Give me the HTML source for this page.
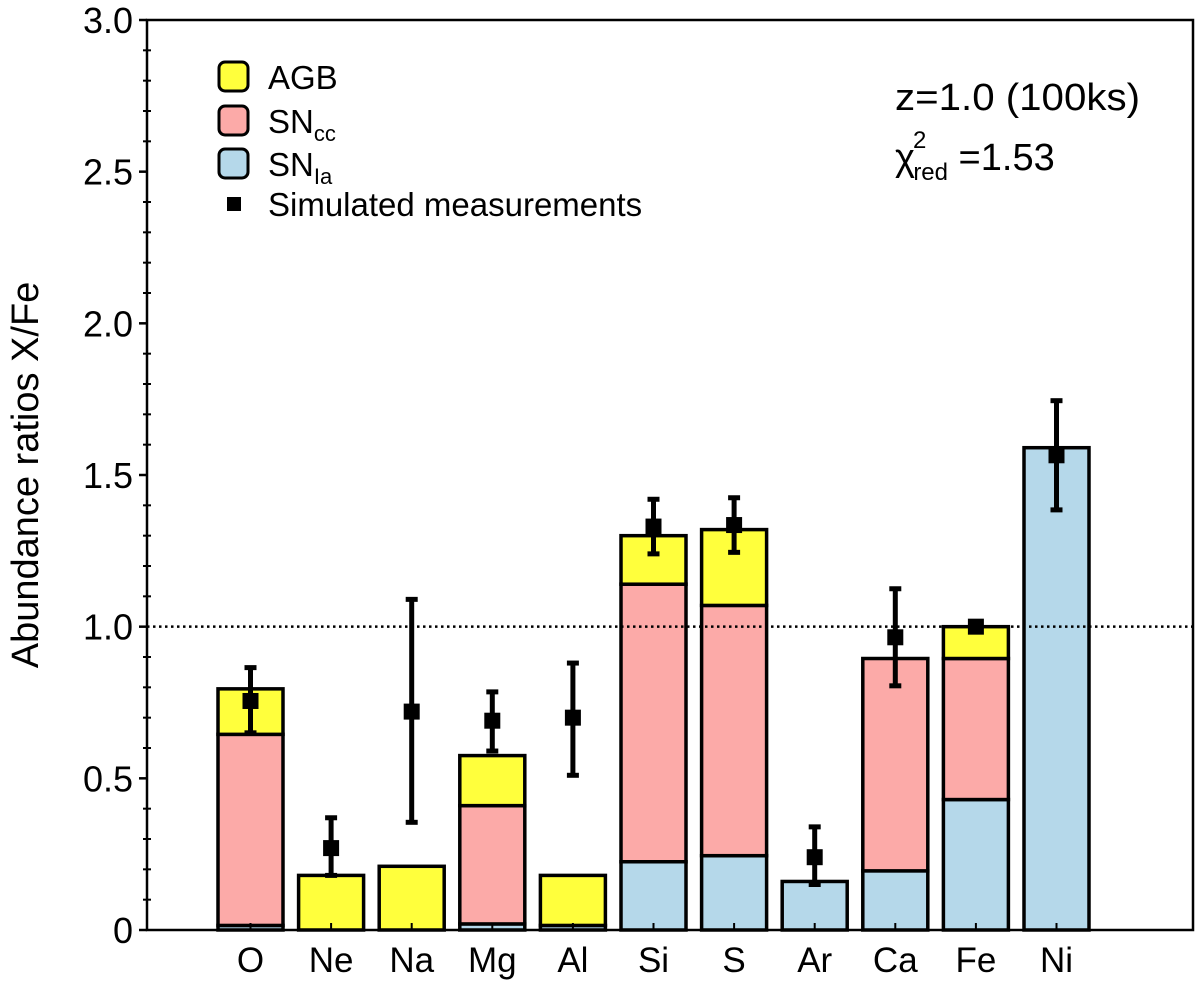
<!DOCTYPE html>
<html><head><meta charset="utf-8"><style>
body{margin:0;background:#fff}
svg text{font-family:"Liberation Sans",sans-serif;fill:#000}
</style></head><body>
<svg id="chart" width="1200" height="982" xmlns="http://www.w3.org/2000/svg">
<g id="bars"></g>
<g id="axes"></g>
<g id="errs"></g>
<g>
 <rect x="219" y="62" width="29" height="29" rx="6" fill="#ffff3c" stroke="#000" stroke-width="3"/>
 <text x="268" y="89" font-size="33">AGB</text>
 <rect x="219" y="106" width="29" height="29" rx="6" fill="#fcaaa8" stroke="#000" stroke-width="3"/>
 <text x="268" y="133" font-size="33">SN<tspan font-size="22" dy="8">cc</tspan></text>
 <rect x="219" y="149" width="29" height="29" rx="6" fill="#b5d8ea" stroke="#000" stroke-width="3"/>
 <text x="268" y="176" font-size="33">SN<tspan font-size="22" dy="8">Ia</tspan></text>
 <rect x="227" y="197" width="14" height="14" fill="#000"/>
 <text x="268" y="216" font-size="33">Simulated measurements</text>
</g>
<text x="895" y="110" font-size="38" textLength="245" lengthAdjust="spacingAndGlyphs">z=1.0 (100ks)</text>
<text x="895" y="170" font-size="38">χ<tspan font-size="24" dx="-2" dy="-22">2</tspan><tspan font-size="24" dx="-13" dy="32">red</tspan><tspan dy="-10"> =1.53</tspan></text>
<text transform="translate(38,475) rotate(-90)" text-anchor="middle" font-size="38">Abundance ratios X/Fe</text>
</svg>
<script>
const elements=["O","Ne","Na","Mg","Al","Si","S","Ar","Ca","Fe","Ni"];
const snia=[0.015,0,0,0.02,0.015,0.225,0.245,0.16,0.195,0.43,1.59];
const sncc=[0.63,0,0,0.39,0,0.915,0.825,0,0.70,0.465,0];
const agb=[0.15,0.18,0.21,0.165,0.165,0.16,0.25,0,0,0.105,0];
const meas=[0.755,0.27,0.72,0.69,0.70,1.33,1.335,0.24,0.965,1.0,1.565];
const errLo=[0.65,0.18,0.355,0.59,0.51,1.24,1.245,0.15,0.805,0.99,1.385];
const errHi=[0.865,0.37,1.09,0.785,0.88,1.42,1.425,0.34,1.125,1.01,1.745];
const yTicks=[0,0.5,1.0,1.5,2.0,2.5,3.0];
const yTickLabels=["0","0.5","1.0","1.5","2.0","2.5","3.0"];
const NS="http://www.w3.org/2000/svg";
const L=147,R=1193,T=20,B=930,YMAX=3;
const y=v=>B-(v/YMAX)*(B-T);
const x=i=>250.5+i*80.6;
const BW=65;
function mk(tag,attrs,parent){const e=document.createElementNS(NS,tag);for(const k in attrs)e.setAttribute(k,attrs[k]);parent.appendChild(e);return e;}
const bars=document.getElementById('bars'),axes=document.getElementById('axes'),errs=document.getElementById('errs');
const cols=["#b5d8ea","#fcaaa8","#ffff3c"],names=["snia","sncc","agb"];
elements.forEach((el,i)=>{
  const segs=[snia[i],sncc[i],agb[i]];let base=0;
  segs.forEach((v,j)=>{
    if(v<=0)return;
    const r=mk('rect',{x:x(i)-BW/2,y:y(base+v),width:BW,height:y(base)-y(base+v),fill:cols[j],stroke:'#000','stroke-width':3.5},bars);
    
    
    base+=v;
  });
  const g=mk('g',{},errs);
  
  
  mk('line',{x1:x(i),x2:x(i),y1:y(errLo[i]),y2:y(errHi[i]),stroke:'#000','stroke-width':5},g);
  mk('line',{x1:x(i)-6,x2:x(i)+6,y1:y(errLo[i]),y2:y(errLo[i]),stroke:'#000','stroke-width':5},g);
  mk('line',{x1:x(i)-6,x2:x(i)+6,y1:y(errHi[i]),y2:y(errHi[i]),stroke:'#000','stroke-width':5},g);
  mk('rect',{x:x(i)-8,y:y(meas[i])-8,width:16,height:16,fill:'#000'},g);
  const t=mk('text',{x:x(i),y:972,'text-anchor':'middle','font-size':35},axes);
  t.textContent=el;
  
  
  mk('line',{x1:x(i),x2:x(i),y1:B,y2:B-7,stroke:'#000','stroke-width':2},axes);
});
const ref=mk('line',{x1:L,x2:R,y1:y(1),y2:y(1),stroke:'#000','stroke-width':2.5,'stroke-dasharray':'2.5,3.5'},axes);


const frame=mk('rect',{x:L,y:T,width:R-L,height:B-T,fill:'none',stroke:'#000','stroke-width':2.5},axes);


for(let k=0;k<=30;k++){const v=k/10;const maj=k%5===0;
  mk('line',{x1:L-(maj?8:4),x2:L+(maj?0:4),y1:y(v),y2:y(v),stroke:'#000','stroke-width':maj?2.5:2},axes);
}
yTicks.forEach((v,i)=>{const t=mk('text',{x:133,y:y(v)+13,'text-anchor':'end','font-size':36},axes);
  t.textContent=yTickLabels[i];
  
  });
</script>
</body></html>
